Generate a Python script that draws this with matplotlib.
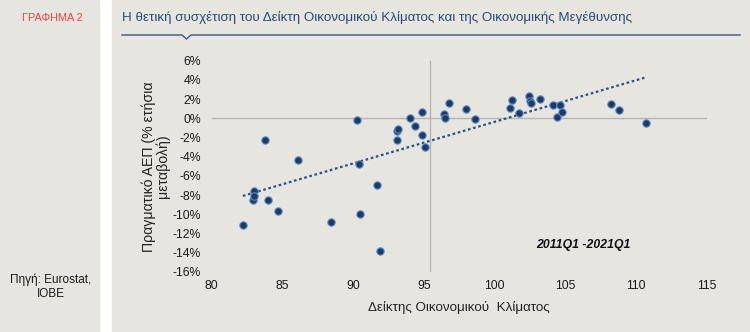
import numpy as np
import matplotlib
matplotlib.use('Agg')
from matplotlib import pyplot as plt
from matplotlib.patches import Rectangle
from matplotlib.lines import Line2D

plt.rcParams['font.family'] = ['Liberation Sans', 'DejaVu Sans']

# economic climate index (x) vs real GDP y/y change % (y), 2011Q1-2021Q1
climate = [82.2, 82.9, 83.0, 83.0, 83.8, 84.0, 84.7, 86.1, 88.4, 90.3,
           90.4, 90.5, 91.7, 91.9, 93.1, 93.1, 93.2, 94.0, 94.4, 94.9,
           94.9, 95.1, 96.4, 96.5, 96.8, 98.0, 98.6, 101.1, 101.2, 101.7,
           102.4, 102.5, 102.6, 103.2, 104.1, 104.4, 104.6, 104.8, 108.2,
           108.8, 110.7]
gdp = [-11.1, -8.5, -7.6, -8.1, -2.3, -8.5, -9.7, -4.3, -10.8, -0.2,
       -4.8, -10.0, -6.9, -13.8, -2.3, -1.3, -1.1, 0.0, -0.8, 0.7,
       -1.7, -3.0, 0.4, 0.0, 1.6, 1.0, -0.1, 1.1, 1.9, 0.6,
       2.3, 1.8, 1.6, 2.0, 1.4, 0.1, 1.4, 0.7, 1.5,
       0.9, -0.5]

x_ticks = [80, 85, 90, 95, 100, 105, 110, 115]
y_ticks = [6, 4, 2, 0, -2, -4, -6, -8, -10, -12, -14, -16]

W, H = 750, 332
bg = '#e6e5e0'
navy = '#1f3864'

fig = plt.figure(figsize=(W / 100, H / 100), dpi=100)
fig.patch.set_facecolor('white')

# panels
fig.patches.append(Rectangle((0, 0), 99 / W, 1, transform=fig.transFigure, color=bg, zorder=-10))
fig.patches.append(Rectangle((112 / W, 0), 1 - 112 / W, 1, transform=fig.transFigure, color=bg, zorder=-10))

fig.text(22 / W, 1 - 18 / H, 'ΓΡΑΦΗΜΑ 2', color='#e8453c', fontsize=7.8, va='center', ha='left')
fig.text(122 / W, 1 - 18 / H,
         'Η θετική συσχέτιση του Δείκτη Οικονομικού Κλίματος και της Οικονομικής Μεγέθυνσης',
         color='#2b4a7a', fontsize=9.6, va='center', ha='left')
px = np.array([122, 182, 186.5, 191, 740]) / W
py = 1 - np.array([35, 35, 39, 35, 35]) / H
fig.lines.append(Line2D(px, py, transform=fig.transFigure, color='#3b5680', lw=1))

fig.text(51 / W, 1 - 287 / H, 'Πηγή: Eurostat,\nIOBE', color='#1a1a1a', fontsize=8.5,
         ha='center', va='center', linespacing=1.2)

ax = fig.add_axes([211.7 / W, 1 - 272 / H, 495 / W, 211.3 / H])
ax.set_facecolor('none')
ax.set_xlim(80, 115)
ax.set_ylim(-16, 6)
for s in ax.spines.values():
    s.set_visible(False)
ax.set_xticks(x_ticks)
ax.set_yticks(y_ticks)
ax.set_yticklabels([f'{v}%' for v in y_ticks])
ax.tick_params(length=0, labelsize=8.8, colors='#1a1a1a')
ax.tick_params(axis='y', pad=7.5)
ax.tick_params(axis='x', pad=6)

ax.axhline(0, color='#b5b5b5', lw=1, zorder=1)
ax.axvline(95.4, color='#b5b5b5', lw=1, zorder=1)

# linear trend
k, b = np.polyfit(climate, gdp, 1)
xs = np.array([min(climate), max(climate)])
ax.plot(xs, k * xs + b, ls=(0, (1.2, 1.2)), color='#2e4f8a', lw=1.6, zorder=2)

ax.scatter(climate, gdp, s=28, color=navy, edgecolors='#5b8cc8', linewidths=0.8, zorder=3)

ax.text(106.3, -13.2, '2011Q1 -2021Q1', fontsize=8.8, fontweight='bold', fontstyle='italic',
        ha='center', va='center', color='#111111')

ax.set_xlabel('Δείκτης Οικονομικού  Κλίματος', fontsize=9.6, color='#222222', labelpad=6)
ax.set_ylabel('Πραγματικό ΑΕΠ (% ετήσια\nμεταβολή)', fontsize=10.2, color='#222222',
              labelpad=2, linespacing=1.0)

fig.savefig('out.png', dpi=100, facecolor=fig.get_facecolor())
